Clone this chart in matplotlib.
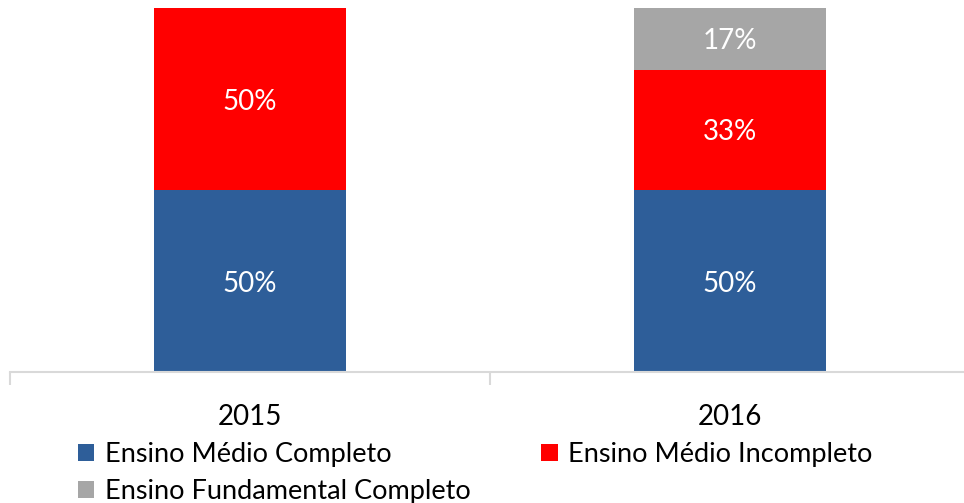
import matplotlib.pyplot as plt
from matplotlib.ticker import FixedLocator

plt.rcParams['font.family'] = ['Lato', 'DejaVu Sans']

# dados
anos = ['2015', '2016']
medio_completo = [50, 50]
medio_incompleto = [50, 33]
fundamental_completo = [0, 17]

cor_azul = '#2e5e99'
cor_vermelho = '#ff0000'
cor_cinza = '#a6a6a6'

fig = plt.figure(figsize=(9.64, 5.03), dpi=100)
ax = fig.add_axes([10/964, (503-372)/503, 960/964, 364/503])

x = range(len(anos))
w = 0.398
b1 = ax.bar(x, medio_completo, w, color=cor_azul, label='Ensino Médio Completo')
b2 = ax.bar(x, medio_incompleto, w, bottom=medio_completo, color=cor_vermelho,
            label='Ensino Médio Incompleto')
base3 = [a + b for a, b in zip(medio_completo, medio_incompleto)]
b3 = ax.bar(x, fundamental_completo, w, bottom=base3, color=cor_cinza,
            label='Ensino Fundamental Completo')

for barras in (b1, b2, b3):
    for r in barras:
        h = r.get_height()
        if h > 0:
            ax.text(r.get_x() + r.get_width()/2, r.get_y() + h/2, f'{h:.0f}%',
                    ha='center', va='center_baseline', color='white', fontsize=20)

ax.set_xlim(-0.5, 1.5)
ax.set_ylim(0, 100)
ax.set_yticks([])
for s in ('top', 'right', 'left'):
    ax.spines[s].set_visible(False)
ax.spines['bottom'].set_color('#d9d9d9')
ax.spines['bottom'].set_linewidth(1.5)

ax.set_xticks(list(x))
ax.set_xticklabels(anos, fontsize=20)
ax.tick_params(axis='x', which='major', length=0, pad=23)
ax.xaxis.set_minor_locator(FixedLocator([-0.5, 0.5, 1.5]))
ax.tick_params(axis='x', which='minor', length=9, width=1.5, color='#d9d9d9')

fig.legend(handles=[b1, b3, b2], ncol=2, loc='upper left',
           bbox_to_anchor=(78/964, 1 - 442/503), frameon=False, fontsize=19.5,
           handlelength=0.6, handleheight=0.6, handletextpad=0.4,
           columnspacing=2.6, labelspacing=0.45, borderpad=0, borderaxespad=0)

fig.savefig('out.png', dpi=100)
